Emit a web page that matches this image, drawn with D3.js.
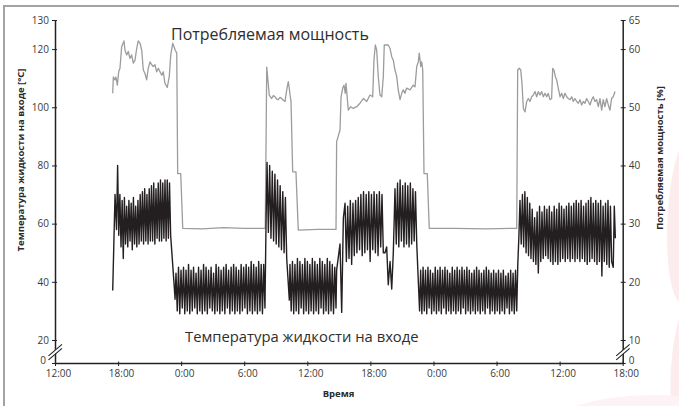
<!DOCTYPE html>
<html>
<head>
<meta charset="utf-8">
<script src="https://cdn.jsdelivr.net/npm/d3@7"></script>
<style>
  body { margin: 0; background: #fff; }
  svg { display: block; font-family: "Open Sans", sans-serif; }
</style>
</head>
<body>
<script>
const width = 679;
const height = 406;

// axis ticks
const tempTicks = [0, 20, 40, 60, 80, 100, 120, 130];
const powerTicks = [0, 10, 20, 30, 40, 50, 60, 65];

// power draw, % : [hours from 12:00 of day one, value]
const power = [
  [5.49,52.4],[5.55,55.2],[5.71,54.7],[5.80,55.2],[5.93,53.8],[6.06,56.1],[6.18,56.7],[6.34,60.4],
  [6.56,61.4],[6.66,59.8],[6.82,59.0],[6.97,59.6],[7.13,58.4],[7.29,59.0],[7.45,57.6],[7.61,58.1],
  [7.77,60.1],[7.92,61.4],[8.09,61.0],[8.25,59.8],[8.40,56.4],[8.56,55.8],[8.72,54.7],[8.87,56.7],
  [9.04,57.8],[9.20,57.3],[9.35,57.0],[9.51,57.3],[9.67,56.1],[9.83,56.7],[9.99,56.1],[10.15,55.5],
  [10.30,56.1],[10.46,54.1],[10.68,53.4],[10.87,55.3],[11.01,59.0],[11.20,61.0],[11.32,60.4],
  [11.44,59.8],[11.58,59.3],[11.67,38.6],[11.96,38.6],[12.15,29.2],[14.0,29.1],[16.0,29.3],
  [18.0,29.2],[20.0,29.2],
  [20.14,56.9],[20.38,52.1],[20.61,51.5],[20.77,52.0],[20.93,51.8],[21.09,51.4],[21.24,51.3],
  [21.40,51.7],[21.56,51.5],[21.72,51.2],[21.88,51.0],[22.04,53.0],[22.19,54.4],[22.29,53.2],
  [22.35,52.2],[22.45,51.0],[22.61,38.9],[22.92,38.9],[23.14,28.9],[25.0,29.0],[26.73,29.0],
  [26.79,44.1],[27.11,46.1],[27.21,51.8],[27.37,53.3],[27.49,53.8],[27.61,52.4],[27.68,54.1],
  [27.90,49.5],[28.13,50.1],[28.37,49.8],[28.70,50.1],[29.01,50.7],[29.33,51.5],[29.65,51.0],
  [29.96,52.1],[30.22,51.8],[30.34,58.1],[30.47,60.7],[30.60,59.8],[30.75,55.3],[30.91,52.1],
  [31.08,51.8],[31.23,55.3],[31.32,60.7],[31.70,60.7],[31.87,60.1],[32.03,58.7],[32.18,58.1],
  [32.34,56.4],[32.50,55.3],[32.65,53.0],[32.82,51.3],[32.98,52.4],[33.13,53.0],[33.29,52.4],
  [33.45,53.3],[33.77,53.0],[34.08,53.8],[34.24,53.5],[34.41,57.0],[34.56,57.8],[34.65,59.3],
  [34.79,57.0],[34.88,57.8],[34.98,56.4],[35.10,38.6],[35.41,38.6],[35.60,29.2],[38.0,29.2],
  [41.0,29.1],[43.92,29.2],
  [44.01,56.4],[44.16,56.7],[44.30,56.4],[44.42,54.1],[44.55,49.8],[44.71,49.2],[44.87,51.0],
  [45.02,51.5],[45.18,51.0],[45.34,51.8],[45.50,52.1],[45.66,52.7],[45.82,51.8],[45.97,52.7],
  [46.13,52.1],[46.29,52.7],[46.45,51.8],[46.61,52.4],[46.77,51.8],[46.92,52.4],[47.08,51.3],
  [47.24,51.5],[47.34,56.7],[47.46,56.4],[47.59,55.3],[47.72,54.7],[47.87,53.3],[48.04,51.8],
  [48.20,52.4],[48.35,51.5],[48.51,52.4],[48.67,51.8],[48.83,51.5],[48.99,51.3],[49.15,51.8],
  [49.30,51.0],[49.46,51.5],[49.62,51.0],[49.78,50.7],[49.94,51.3],[50.10,50.4],[50.25,51.0],
  [50.41,50.7],[50.57,51.5],[50.73,51.0],[50.89,50.4],[51.05,51.3],[51.20,51.8],[51.36,51.0],
  [51.52,51.3],[51.68,50.1],[51.84,51.5],[52.00,49.5],[52.15,51.3],[52.31,50.1],[52.47,51.5],
  [52.63,50.4],[52.79,49.5],[52.94,51.5],[53.10,51.8],[53.27,52.7]
];

// inlet temperature, °C: compressor cycling runs, samples evenly spaced in each run
const cycleA = [
  58, 80, 56, 70, 52, 68, 48, 69, 53, 66,
  52, 68, 54, 67, 51, 69, 53, 66, 52, 68,
  53, 70, 54, 71, 53, 72, 54, 70, 53, 72,
  54, 73, 54, 74, 53, 72, 55, 74, 54, 75,
  54, 74, 55, 75, 54, 75, 55, 74, 56
];
const cycleB = [
  43, 30, 45, 29, 44, 31, 45, 29, 44, 30, 46, 29,
  44, 30, 45, 31, 43, 29, 45, 30, 44, 29, 46, 30,
  45, 29, 44, 31, 45, 30, 43, 29, 46, 30, 45, 29,
  44, 30, 45, 29, 46, 31, 44, 29, 45, 30, 46, 29,
  45, 30, 44, 29, 46, 30, 45, 31, 46, 29, 45, 30,
  47, 29, 46, 30, 45, 29, 47, 30, 46, 29, 46, 31
];
const cycleC = [81, 57, 80, 55, 78, 54, 77, 53, 75, 52, 73, 51, 71, 50, 69, 48];
const cycleD = [
  46, 30, 47, 29, 46, 30, 48, 29, 47, 31, 46, 29, 48, 30, 47, 29, 46, 30, 48,
  29, 47, 30, 46, 29, 48, 31, 47, 29, 46, 30, 48, 29, 47, 30, 46, 29, 45, 31
];
const cycleE = [
  67, 47, 66, 48, 68, 46, 67, 49, 68, 50, 69, 51, 70, 49, 71,
  50, 70, 51, 71, 47, 70, 51, 71, 50, 70, 49, 71, 52, 70, 50
];
const cycleF = [72, 53, 74, 52, 75, 54, 73, 52, 74, 53, 73, 52, 74, 53, 72, 54, 71, 53];
const cycleG = [
  44, 29, 45, 30, 44, 29, 45, 31, 44, 29, 43, 30, 45, 29, 44, 30,
  45, 29, 44, 31, 45, 29, 44, 30, 43, 29, 45, 30, 44, 29, 45, 30,
  44, 29, 45, 31, 44, 29, 45, 30, 44, 29, 43, 30, 44, 29, 45, 30,
  44, 29, 43, 30, 44, 29, 45, 31, 44, 29, 43, 30, 44, 29, 43, 30,
  44, 29, 43, 30, 44, 29, 42, 31, 43, 29, 44, 30, 43, 29, 44, 30
];
const cycleH = [
  68, 53, 70, 52, 71, 50, 69, 49, 67, 48, 65, 47, 62, 46, 64, 43,
  66, 47, 64, 48, 66, 49, 65, 48, 66, 47, 64, 46, 66, 47, 65, 46,
  67, 47, 66, 48, 65, 47, 66, 48, 67, 47, 66, 48, 67, 47, 68, 48,
  67, 47, 68, 48, 66, 47, 67, 46, 68, 47, 69, 48, 67, 47, 68, 46,
  67, 47, 68, 42, 66, 47, 67, 46, 68, 45, 66, 47
];

// temperature record in time order: single readings [hour, value] or cycling runs
const tempParts = [
  {pts: [[5.49, 37], [5.71, 70]]},
  {from: 5.85, to: 11.0, vals: cycleA},
  {pts: [[11.32, 39.5], [11.42, 34]]},
  {from: 11.51, to: 19.97, vals: cycleB},
  {pts: [[20.07, 59]]},
  {from: 20.17, to: 22.04, vals: cycleC},
  {pts: [[22.29, 33.7]]},
  {from: 22.35, to: 26.73, vals: cycleD},
  {pts: [[26.79, 44], [27.11, 53], [27.27, 29.5], [27.43, 62]]},
  {from: 27.59, to: 31.23, vals: cycleE},
  {pts: [[31.39, 50], [31.55, 52], [31.70, 39], [31.87, 47], [32.03, 37.5], [32.18, 50], [32.27, 62]]},
  {from: 32.34, to: 34.41, vals: cycleF},
  {pts: [[34.56, 40], [34.68, 30]]},
  {from: 34.78, to: 43.92, vals: cycleG},
  {pts: [[44.02, 46], [44.12, 55]]},
  {from: 44.23, to: 52.95, vals: cycleH},
  {pts: [[53.1, 45], [53.2, 66], [53.3, 55]]}
];

const temp = [];
tempParts.forEach(p => {
  if (p.pts) p.pts.forEach(d => temp.push(d));
  else p.vals.forEach((v, i) => temp.push([p.from + (p.to - p.from) * i / (p.vals.length - 1), v]));
});

const t0 = new Date(2020, 0, 1, 12, 0);
const atHour = h => new Date(t0.getTime() + h * 36e5);

//scales (the value axes are broken below 20 °C / 10 %)
const x = d3.scaleTime()
  .domain([atHour(0), atHour(54)])
  .range([55, 622.7]);
const yTemp = d3.scaleLinear()
  .domain([0, 20, 130])
  .range([363, 340, 20]);
const yPower = d3.scaleLinear()
  .domain([0, 10, 65])
  .range([363, 340, 20]);

const svg = d3.select('body')
  .append('svg')
    .attr('width', width)
    .attr('height', height);

//faint watermark at the right edge
const wm = svg.append('g').attr('fill', '#fdecee');
wm.append('path').attr('d', 'M679,150 L679,302 Q668,290 667,240 Q667,185 679,150 Z');
wm.append('path').attr('d', 'M679,318 L679,406 L671,406 Q668,360 679,318 Z');
wm.append('path').attr('d', 'M575,406 Q620,392 679,396 L679,406 Z').attr('fill', '#fef3f4');

//frame
svg.append('path')
  .attr('d', 'M4,406 L4,6 L679,6')
  .attr('fill', 'none')
  .attr('stroke', '#a3a3a3')
  .attr('stroke-width', 2);

//lines
const powerLine = d3.line()
  .x(d => x(atHour(d[0])))
  .y(d => yPower(d[1]));
const tempLine = d3.line()
  .x(d => x(atHour(d[0])))
  .y(d => yTemp(d[1]));

svg.append('path')
  .datum(power)
  .attr('d', powerLine)
  .attr('fill', 'none')
  .attr('stroke', '#9c9c9c')
  .attr('stroke-width', 1.3)
  .attr('stroke-linejoin', 'round');

svg.append('path')
  .datum(temp)
  .attr('d', tempLine)
  .attr('fill', 'none')
  .attr('stroke', '#231f20')
  .attr('stroke-width', 1.4)
  .attr('stroke-linejoin', 'round');

//axes
function styleAxis(g) {
  g.attr('font-family', null).attr('font-size', 10);
  g.select('.domain').attr('stroke', '#222').attr('stroke-width', 1.5);
  g.selectAll('.tick line').attr('stroke', '#222').attr('stroke-width', 1);
  g.selectAll('.tick text').attr('fill', '#3a3a3a');
}

const xAxis = d3.axisBottom(x)
  .ticks(d3.timeHour.every(6))
  .tickFormat(d3.timeFormat('%-H:%M'))
  .tickSize(3)
  .tickPadding(4)
  .tickSizeOuter(0);
svg.append('g')
  .attr('transform', 'translate(0,363)')
  .call(xAxis)
  .call(styleAxis)
  .call(g => g.selectAll('.tick line').attr('y1', -1.5))
  .call(g => g.selectAll('.tick text').attr('dx', 3));

const yAxisLeft = d3.axisLeft(yTemp)
  .tickValues(tempTicks)
  .tickSize(3)
  .tickPadding(3)
  .tickSizeOuter(0);
svg.append('g')
  .attr('transform', 'translate(55,0)')
  .call(yAxisLeft)
  .call(styleAxis)
  .call(g => g.selectAll('.tick line').attr('x1', 2))
  .call(g => g.selectAll('.tick text').filter(d => d === 0).attr('dy', '0em').attr('x', -9));

const yAxisRight = d3.axisRight(yPower)
  .tickValues(powerTicks)
  .tickSize(3)
  .tickPadding(3)
  .tickSizeOuter(0);
svg.append('g')
  .attr('transform', 'translate(622.7,0)')
  .call(yAxisRight)
  .call(styleAxis)
  .call(g => g.selectAll('.tick line').attr('x1', -2))
  .call(g => g.selectAll('.tick text').filter(d => d === 0).attr('dy', '0em'));

//axis break marks
[55, 622.7].forEach(ax => {
  const yb = yTemp(11);
  const g = svg.append('g').attr('transform', `translate(${ax},${yb})`);
  g.append('path')
    .attr('d', 'M-6,5 L7,-6 L7,-2 L-6,9 Z')
    .attr('fill', '#fff');
  g.selectAll('line')
    .data([0, 4])
    .enter()
    .append('line')
      .attr('x1', -6.5).attr('y1', d => 5.5 + d)
      .attr('x2', 7).attr('y2', d => -6 + d)
      .attr('stroke', '#222')
      .attr('stroke-width', 1.1);
});

//series names
svg.append('text')
  .attr('x', 171)
  .attr('y', 40)
  .attr('fill', '#2e2e2e')
  .style('font-size', '16px')
  .text('Потребляемая мощность');
svg.append('text')
  .attr('x', 185)
  .attr('y', 341.5)
  .attr('fill', '#2e2e2e')
  .style('font-size', '14.8px')
  .text('Температура жидкости на входе');

//axis titles
svg.append('text')
  .attr('x', 338.5)
  .attr('y', 397)
  .attr('text-anchor', 'middle')
  .attr('fill', '#2a2a2a')
  .style('font-size', '9.5px')
  .style('font-weight', 'bold')
  .text('Время');
svg.append('text')
  .attr('transform', 'rotate(-90)')
  .attr('x', -160)
  .attr('y', 23.5)
  .attr('text-anchor', 'middle')
  .attr('fill', '#2a2a2a')
  .style('font-size', '9.5px')
  .style('font-weight', 'bold')
  .text('Температура жидкости на входе [°C]');
svg.append('text')
  .attr('transform', 'rotate(-90)')
  .attr('x', -158)
  .attr('y', 663)
  .attr('text-anchor', 'middle')
  .attr('fill', '#2a2a2a')
  .style('font-size', '9.5px')
  .style('font-weight', 'bold')
  .text('Потребляемая мощность [%]');
</script>
</body>
</html>
